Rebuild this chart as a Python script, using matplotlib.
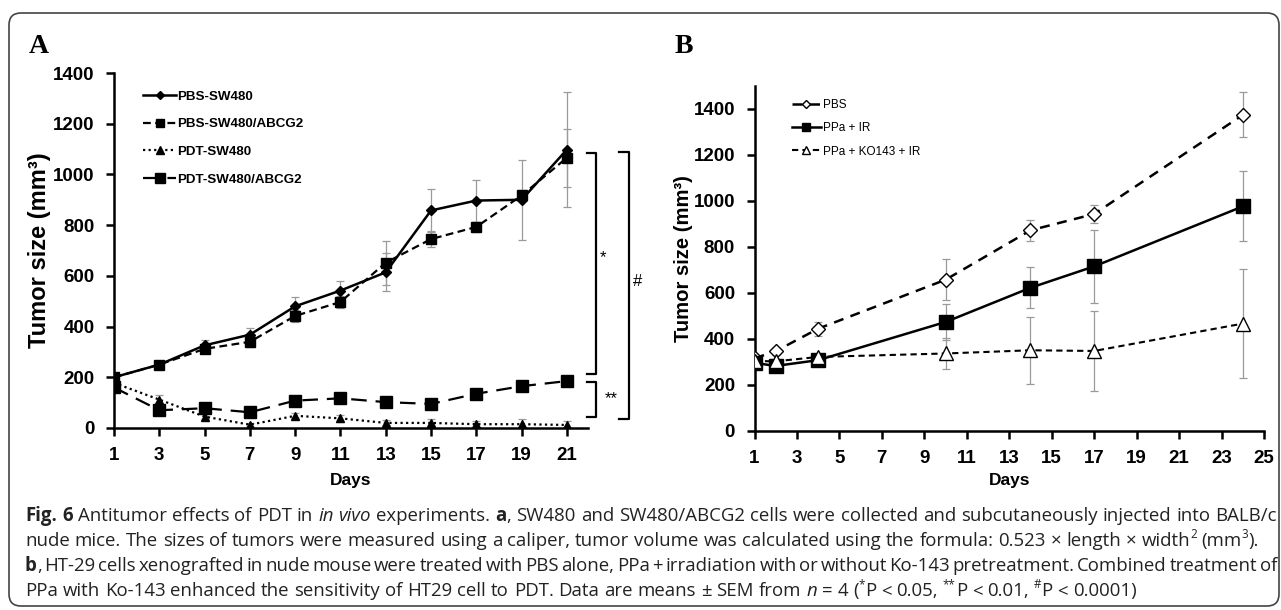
import re
import matplotlib
matplotlib.use('Agg')
import matplotlib.pyplot as plt
from matplotlib.transforms import IdentityTransform
from matplotlib.patches import FancyBboxPatch
from matplotlib.font_manager import FontProperties

# ── data: panel A (SW480 xenografts) ───────────────────────────────────────
days_a = [1, 3, 5, 7, 9, 11, 13, 15, 17, 19, 21]
pbs_sw480 = [200, 250, 326, 368, 480, 542, 614, 858, 897, 900, 1098]
pbs_sw480_err = [8, 12, 20, 25, 35, 37, 75, 85, 83, 158, 227]
pbs_abcg2 = [200, 250, 312, 340, 442, 497, 652, 745, 793, 917, 1066]
pbs_abcg2_err = [8, 10, 15, 20, 25, 25, 87, 30, 20, 20, 115]
pdt_sw480 = [178, 112, 45, 13, 48, 38, 20, 20, 15, 15, 12]
pdt_sw480_err = [10, 20, 10, 5, 10, 15, 10, 15, 12, 20, 15]
pdt_abcg2 = [160, 70, 78, 62, 108, 117, 102, 95, 135, 165, 185]
pdt_abcg2_err = [10, 15, 12, 10, 15, 20, 15, 15, 15, 15, 15]
labels_a = ["PBS-SW480", "PBS-SW480/ABCG2", "PDT-SW480", "PDT-SW480/ABCG2"]

# ── data: panel B (HT-29 xenografts) ───────────────────────────────────────
days_b = [1, 2, 4, 10, 14, 17, 24]
pbs = [315, 346, 444, 657, 872, 943, 1374]
pbs_err = [10, 15, 30, 88, 46, 40, 98]
ppa_ir = [295, 282, 307, 473, 622, 715, 976]
ppa_ir_err = [10, 10, 12, 80, 90, 158, 152]
ppa_ko = [303, 302, 321, 336, 350, 347, 466]
ppa_ko_err = [10, 10, 10, 68, 145, 173, 237]
labels_b = ["PBS", "PPa + IR", "PPa + KO143 + IR"]

# significance brackets in panel A: (y_low, y_high, label)
brackets = [(212, 1086, "*"), (42, 180, "**"), (35, 1090, "#")]

SANS = "Liberation Sans"
ERR = "#9a9a9a"
W, H = 1281, 610

fig = plt.figure(figsize=(W / 100, H / 100), dpi=100)
axA = fig.add_axes([114 / W, (H - 428) / H, 474 / W, 355 / H])
axB = fig.add_axes([754.5 / W, (H - 430.7) / H, 509.5 / W, 344.7 / H])


def style_axes(ax, ylab_size):
    for s in ("top", "right"):
        ax.spines[s].set_visible(False)
    for s in ("left", "bottom"):
        ax.spines[s].set_linewidth(1.8)
    ax.tick_params(direction="out", length=6, width=1.8, labelsize=13.5, pad=8)
    for lbl in ax.get_xticklabels() + ax.get_yticklabels():
        lbl.set_fontfamily(SANS)
        lbl.set_fontweight("bold")
    ax.set_xlabel("Days", fontsize=12.5, fontweight="bold", family=SANS)
    ax.set_ylabel("Tumor size (mm³)", fontsize=ylab_size, fontweight="bold", family=SANS)


# ── panel A ────────────────────────────────────────────────────────────────
series_a = [
    (pbs_sw480, pbs_sw480_err, dict(ls="-", marker="D", ms=5)),
    (pbs_abcg2, pbs_abcg2_err, dict(ls=(0, (3.5, 2)), marker="s", ms=7)),
    (pdt_sw480, pdt_sw480_err, dict(ls=(0, (1, 1.5)), marker="^", ms=6)),
    (pdt_abcg2, pdt_abcg2_err, dict(ls=(0, (7, 4)), marker="s", ms=8)),
]
for (vals, errs, st), lab in zip(series_a, labels_a):
    axA.errorbar(days_a, vals, yerr=errs, fmt="none", ecolor=ERR,
                 elinewidth=0.9, capsize=3, capthick=0.9, zorder=1)
    axA.plot(days_a, vals, color="black", lw=1.6 if st["ls"] != "-" else 1.8,
             mfc="black", mec="black", label=lab, zorder=3, **st)

axA.set_xlim(1, 21.93)
axA.set_ylim(0, 1400)
axA.set_xticks(days_a)
axA.set_yticks(range(0, 1401, 200))
style_axes(axA, 17)
axA.yaxis.set_label_coords(-0.133, 0.5)
axA.xaxis.set_label_coords(0.5, -0.128)
axA.legend(loc="upper left", bbox_to_anchor=(0.061, 0.951), frameon=False,
           borderpad=0, borderaxespad=0, handlelength=2.5, handletextpad=0.1,
           labelspacing=1.15, numpoints=1, markerscale=0.85,
           prop=FontProperties(family=SANS, weight="bold", size=9.6))

# brackets
br_x = [(21.88, 22.28), (21.88, 22.28), (23.30, 23.74)]
lab_xy = [(22.6, 672), (22.95, 114), (24.1, 578)]
for (y0, y1, lab), (xl, xr), (lx, ly) in zip(brackets, br_x, lab_xy):
    axA.plot([xl, xr, xr, xl], [y1, y1, y0, y0], color="black", lw=1.6, clip_on=False)
    axA.text(lx, ly, lab, ha="center", va="center", fontsize=12, family=SANS)

# ── panel B ────────────────────────────────────────────────────────────────
series_b = [
    (pbs, pbs_err, dict(ls=(0, (4, 3)), marker="D", ms=7, mfc="white", lw=1.8)),
    (ppa_ir, ppa_ir_err, dict(ls="-", marker="s", ms=10, mfc="black", lw=1.8)),
    (ppa_ko, ppa_ko_err, dict(ls=(0, (3, 2)), marker="^", ms=10, mfc="white", lw=1.5)),
]
for (vals, errs, st), lab in zip(series_b, labels_b):
    axB.errorbar(days_b, vals, yerr=errs, fmt="none", ecolor=ERR,
                 elinewidth=0.9, capsize=3, capthick=0.9, zorder=1)
    axB.plot(days_b, vals, color="black", mec="black", mew=1.0, label=lab,
             zorder=3, **st)

axB.set_xlim(1, 25)
axB.set_ylim(0, 1500)
axB.set_xticks(range(1, 26, 2))
axB.set_yticks(range(0, 1401, 200))
style_axes(axB, 14.6)
axB.yaxis.set_label_coords(-0.121, 0.5)
axB.xaxis.set_label_coords(0.5, -0.124)
axB.legend(loc="upper left", bbox_to_anchor=(0.074, 0.962), frameon=False,
           borderpad=0, borderaxespad=0, handlelength=2.4, handletextpad=0.2,
           labelspacing=0.95, numpoints=1, markerscale=0.6,
           prop=FontProperties(family=SANS, size=8.5))

# panel letters
fig.text(29 / W, (H - 53) / H, "A", family="Liberation Serif", weight="bold",
         fontsize=20, va="baseline")
fig.text(675 / W, (H - 53) / H, "B", family="Liberation Serif", weight="bold",
         fontsize=20, va="baseline")

# rounded frame
frame = FancyBboxPatch((9, 4), 1270, 593, boxstyle="round,pad=0,rounding_size=12",
                       transform=IdentityTransform(), fill=False,
                       edgecolor="#444444", lw=1.2)
fig.add_artist(frame)

# ── caption, placed word by word ───────────────────────────────────────────
caption = [
    [("Fig. 6", "b"), (" Antitumor effects of PDT in ", "n"), ("in vivo", "i"),
     (" experiments. ", "n"), ("a", "b"),
     (", SW480 and SW480/ABCG2 cells were collected and subcutaneously injected into BALB/c", "n")],
    [("nude mice. The sizes of tumors were measured using a caliper, tumor volume was "
      "calculated using the formula: 0.523 × length × width", "n"), ("2", "sup"),
     (" (mm", "n"), ("3", "sup"), (").", "n")],
    [("b", "b"), (", HT-29 cells xenografted in nude mouse were treated with PBS alone, PPa + "
                  "irradiation with or without Ko-143 pretreatment. Combined treatment of", "n")],
    [("PPa with Ko-143 enhanced the sensitivity of HT29 cell to PDT. Data are means ± SEM from ", "n"),
     ("n", "i"), (" = 4 (", "n"), ("*", "sup"), ("P < 0.05, ", "n"), ("**", "sup"),
     ("P < 0.01, ", "n"), ("#", "sup"), ("P < 0.0001)", "n")],
]
justify = [True, False, True, False]
baselines = [521, 546, 571, 596]
CAP_COLOR = "#222222"
renderer = fig.canvas.get_renderer()


def fprops(st, size):
    return FontProperties(family=["Open Sans", "DejaVu Sans"],
                          weight="bold" if st == "b" else "normal",
                          style="italic" if st == "i" else "normal",
                          size=size * 0.62 if st == "sup" else size)


def text_w(s, fp):
    t = fig.text(0, 0, s, fontproperties=fp, transform=IdentityTransform())
    w = t.get_window_extent(renderer).width
    t.remove()
    return w


def layout(runs, size):
    toks = []
    for text, st in runs:
        for p in re.split(r"( )", text):
            if p:
                fp = fprops(st, size)
                w = text_w("n n", fp) - text_w("nn", fp) if p == " " else text_w(p, fp)
                toks.append((p, st, fp, w))
    return toks


# size the caption so the unjustified second line ends where it does
size = 13
nat = sum(t[3] for t in layout(caption[1], size))
size = size * (1255 - 25) / nat

for runs, just, base in zip(caption, justify, baselines):
    toks = layout(runs, size)
    total = sum(t[3] for t in toks)
    nsp = sum(1 for t in toks if t[0] == " ")
    extra = (1277 - 25 - total) / nsp if just else 0
    x = 25
    for p, st, fp, w in toks:
        if p == " ":
            x += w + extra
            continue
        y = H - base + (size * 100 / 72 * 0.42 if st == "sup" else 0)
        fig.text(x, y, p, fontproperties=fp, transform=IdentityTransform(),
                 va="baseline", ha="left", color=CAP_COLOR)
        x += w

fig.savefig("out.png", dpi=100)
